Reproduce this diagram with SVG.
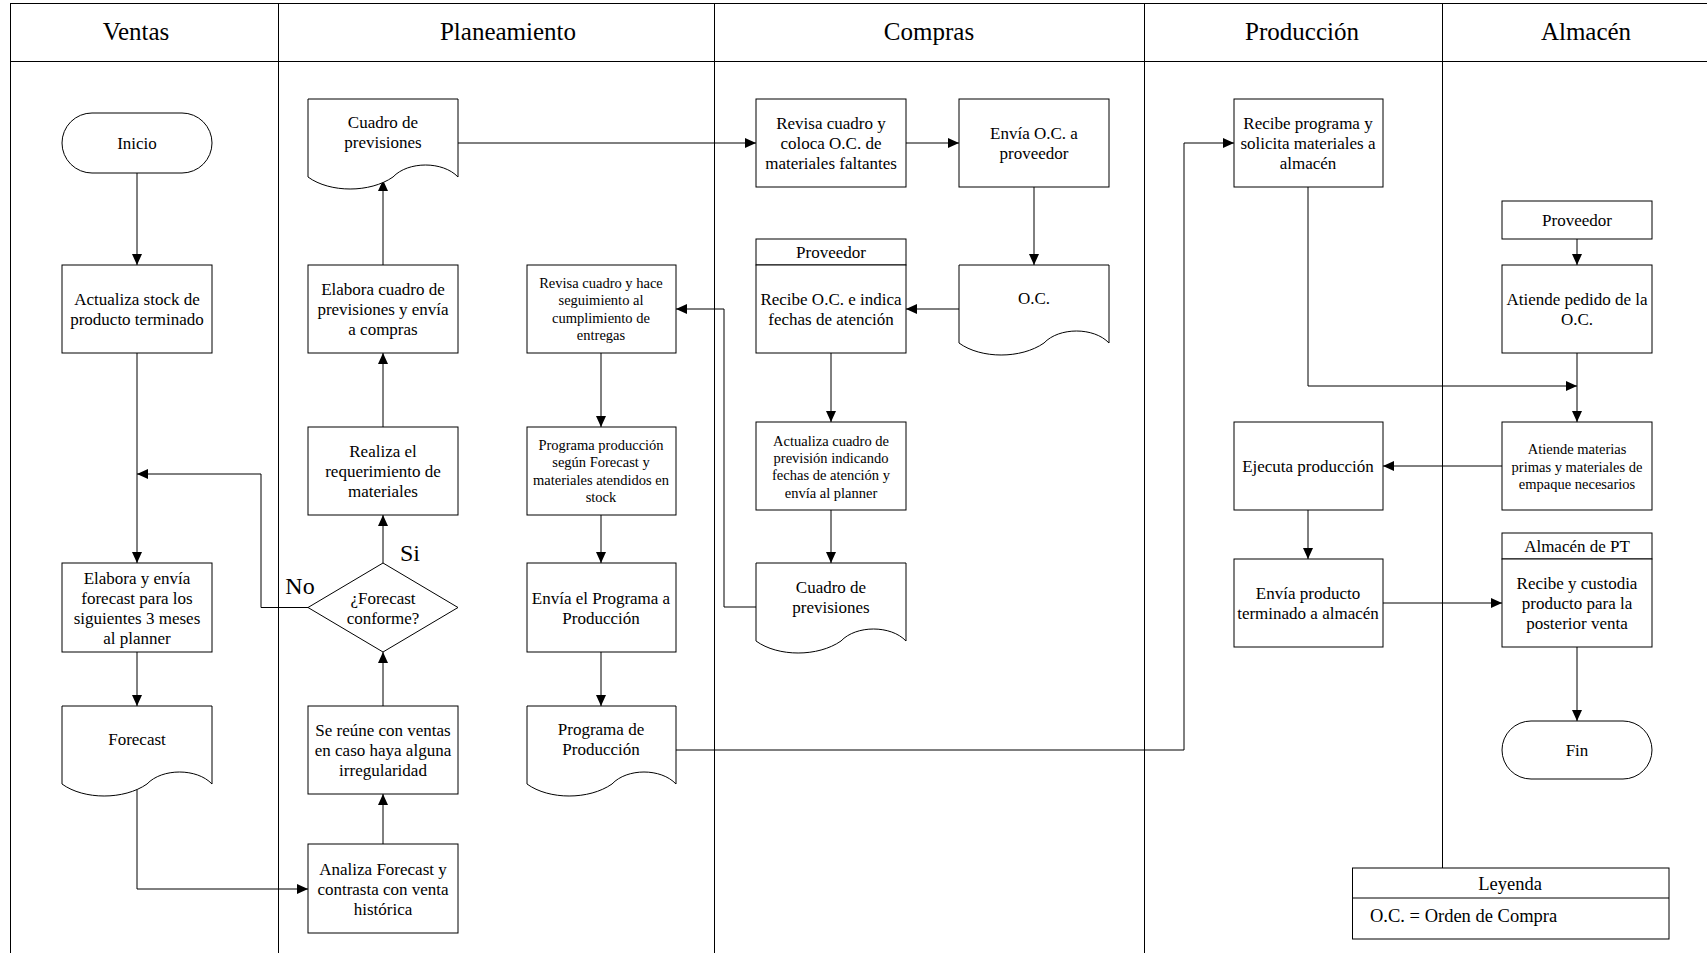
<svg xmlns="http://www.w3.org/2000/svg" width="1707" height="953" viewBox="0 0 1707 953">
<style>
text{font-family:"Liberation Serif","Times New Roman",serif;fill:#000;text-anchor:middle;font-size:17px}
.s{font-size:14.5px}
.h{font-size:25px}
.lb{font-size:24px}
.lg{font-size:18.5px}
.shape{fill:#fff;stroke:#000;stroke-width:1}
.lane{stroke:#000;stroke-width:1;fill:none}
.con path{fill:none;stroke:#000;stroke-width:1}
</style>
<defs>
<marker id="arr" markerUnits="userSpaceOnUse" markerWidth="12" markerHeight="11" refX="11" refY="5" orient="auto">
<path d="M0,0 L11,5 L0,10 Z" fill="#000"/>
</marker>
</defs>
<rect width="1707" height="953" fill="#fff"/>
<g id="lanes">
<path class="lane" d="M10,3.5 H1707 M10,61.5 H1707 M10.5,3 V953 M278.5,3 V953 M714.5,3 V953 M1144.5,3 V953 M1442.5,3 V868"/>
<text class="h" x="136" y="40">Ventas</text>
<text class="h" x="508" y="40">Planeamiento</text>
<text class="h" x="929" y="40">Compras</text>
<text class="h" x="1302" y="40">Producción</text>
<text class="h" x="1586" y="40">Almacén</text>
</g>
<g id="connectors" class="con">
<path d="M137,173 V265" marker-end="url(#arr)"/>
<path d="M137,353 V563" marker-end="url(#arr)"/>
<path d="M137,652 V706" marker-end="url(#arr)"/>
<path d="M137,786 V889 H308" marker-end="url(#arr)"/>
<path d="M383,844 V794" marker-end="url(#arr)"/>
<path d="M383,706 V652" marker-end="url(#arr)"/>
<path d="M383,563 V515" marker-end="url(#arr)"/>
<path d="M308,607.5 H261 V474 H137" marker-end="url(#arr)"/>
<path d="M383,427 V353" marker-end="url(#arr)"/>
<path d="M383,265 V180" marker-end="url(#arr)"/>
<path d="M458,143 H756" marker-end="url(#arr)"/>
<path d="M906,143 H959" marker-end="url(#arr)"/>
<path d="M1034,187 V265" marker-end="url(#arr)"/>
<path d="M959,309 H906" marker-end="url(#arr)"/>
<path d="M831,353 V422" marker-end="url(#arr)"/>
<path d="M831,510 V563" marker-end="url(#arr)"/>
<path d="M756,607 H724 V309 H676" marker-end="url(#arr)"/>
<path d="M601,353 V427" marker-end="url(#arr)"/>
<path d="M601,515 V563" marker-end="url(#arr)"/>
<path d="M601,652 V706" marker-end="url(#arr)"/>
<path d="M676,750 H1184 V143 H1234" marker-end="url(#arr)"/>
<path d="M1308,187 V386 H1577" marker-end="url(#arr)"/>
<path d="M1577,239 V265" marker-end="url(#arr)"/>
<path d="M1577,353 V422" marker-end="url(#arr)"/>
<path d="M1502,466 H1383" marker-end="url(#arr)"/>
<path d="M1308,510 V559" marker-end="url(#arr)"/>
<path d="M1383,603 H1502" marker-end="url(#arr)"/>
<path d="M1577,647 V721" marker-end="url(#arr)"/>
<text class="lb" x="410" y="561">Si</text>
<text class="lb" x="300" y="594">No</text>
</g>
<g id="n_inicio">
<rect class="shape" x="62" y="113" width="150" height="60" rx="30" ry="30"/>
<text x="137" y="148.6">Inicio</text>
</g>
<g id="n_actualiza_stock">
<rect class="shape" x="62" y="265" width="150" height="88"/>
<text x="137" y="304.6">Actualiza stock de</text>
<text x="137" y="324.6">producto terminado</text>
</g>
<g id="n_elabora_forecast">
<rect class="shape" x="62" y="563" width="150" height="89"/>
<text x="137" y="583.6">Elabora y envía</text>
<text x="137" y="603.6">forecast para los</text>
<text x="137" y="623.6">siguientes 3 meses</text>
<text x="137" y="643.6">al planner</text>
</g>
<g id="n_forecast">
<path class="shape" d="M62,706 H212 V784 C197,768 162,768 147,784 C124,800 84,800 62,784 Z"/>
<text x="137" y="744.6">Forecast</text>
</g>
<g id="n_cuadro_prev_pl">
<path class="shape" d="M308,99 H458 V177 C443,161 408,161 393,177 C370,193 330,193 308,177 Z"/>
<text x="383" y="127.6">Cuadro de</text>
<text x="383" y="147.6">previsiones</text>
</g>
<g id="n_elabora_cuadro">
<rect class="shape" x="308" y="265" width="150" height="88"/>
<text x="383" y="294.6">Elabora cuadro de</text>
<text x="383" y="314.6">previsiones y envía</text>
<text x="383" y="334.6">a compras</text>
</g>
<g id="n_realiza">
<rect class="shape" x="308" y="427" width="150" height="88"/>
<text x="383" y="456.6">Realiza el</text>
<text x="383" y="476.6">requerimiento de</text>
<text x="383" y="496.6">materiales</text>
</g>
<g id="n_decision">
<path class="shape" d="M383,563 L458,607.5 L383,652 L308,607.5 Z"/>
<text x="383" y="603.6">¿Forecast</text>
<text x="383" y="623.6">conforme?</text>
</g>
<g id="n_reune">
<rect class="shape" x="308" y="706" width="150" height="88"/>
<text x="383" y="735.6">Se reúne con ventas</text>
<text x="383" y="755.6">en caso haya alguna</text>
<text x="383" y="775.6">irregularidad</text>
</g>
<g id="n_analiza">
<rect class="shape" x="308" y="844" width="150" height="89"/>
<text x="383" y="874.6">Analiza Forecast y</text>
<text x="383" y="894.6">contrasta con venta</text>
<text x="383" y="914.6">histórica</text>
</g>
<g id="n_revisa_hace">
<rect class="shape" x="527" y="265" width="149" height="88"/>
<text class="s" x="601" y="288">Revisa cuadro y hace</text>
<text class="s" x="601" y="305.3">seguimiento al</text>
<text class="s" x="601" y="322.6">cumplimiento de</text>
<text class="s" x="601" y="340">entregas</text>
</g>
<g id="n_programa_prod">
<rect class="shape" x="527" y="427" width="149" height="88"/>
<text class="s" x="601" y="450">Programa producción</text>
<text class="s" x="601" y="467.3">según Forecast y</text>
<text class="s" x="601" y="484.6">materiales atendidos en</text>
<text class="s" x="601" y="502">stock</text>
</g>
<g id="n_envia_programa">
<rect class="shape" x="527" y="563" width="149" height="89"/>
<text x="601" y="603.6">Envía el Programa a</text>
<text x="601" y="623.6">Producción</text>
</g>
<g id="n_programa_doc">
<path class="shape" d="M527,706 H676 V784 C661,768 627,768 612,784 C589,800 549,800 527,784 Z"/>
<text x="601" y="734.6">Programa de</text>
<text x="601" y="754.6">Producción</text>
</g>
<g id="n_revisa_coloca">
<rect class="shape" x="756" y="99" width="150" height="88"/>
<text x="831" y="128.6">Revisa cuadro y</text>
<text x="831" y="148.6">coloca O.C. de</text>
<text x="831" y="168.6">materiales faltantes</text>
</g>
<g id="n_envia_oc">
<rect class="shape" x="959" y="99" width="150" height="88"/>
<text x="1034" y="138.6">Envía O.C. a</text>
<text x="1034" y="158.6">proveedor</text>
</g>
<g id="n_recibe_oc">
<rect class="shape" x="756" y="239" width="150" height="26"/>
<text x="831" y="258">Proveedor</text>
<rect class="shape" x="756" y="265" width="150" height="88"/>
<text x="831" y="304.6">Recibe O.C. e indica</text>
<text x="831" y="324.6">fechas de atención</text>
</g>
<g id="n_oc_doc">
<path class="shape" d="M959,265 H1109 V343 C1094,327 1059,327 1044,343 C1021,359 981,359 959,343 Z"/>
<text x="1034" y="303.6">O.C.</text>
</g>
<g id="n_actualiza_cuadro">
<rect class="shape" x="756" y="422" width="150" height="88"/>
<text class="s" x="831" y="445.5">Actualiza cuadro de</text>
<text class="s" x="831" y="462.9">previsión indicando</text>
<text class="s" x="831" y="480.3">fechas de atención y</text>
<text class="s" x="831" y="497.7">envía al planner</text>
</g>
<g id="n_cuadro_prev_co">
<path class="shape" d="M756,563 H906 V641 C891,625 856,625 841,641 C818,657 778,657 756,641 Z"/>
<text x="831" y="592.6">Cuadro de</text>
<text x="831" y="612.6">previsiones</text>
</g>
<g id="n_recibe_programa">
<rect class="shape" x="1234" y="99" width="149" height="88"/>
<text x="1308" y="128.6">Recibe programa y</text>
<text x="1308" y="148.6">solicita materiales a</text>
<text x="1308" y="168.6">almacén</text>
</g>
<g id="n_ejecuta">
<rect class="shape" x="1234" y="422" width="149" height="88"/>
<text x="1308" y="472">Ejecuta producción</text>
</g>
<g id="n_envia_pt">
<rect class="shape" x="1234" y="559" width="149" height="88"/>
<text x="1308" y="599">Envía producto</text>
<text x="1308" y="619">terminado a almacén</text>
</g>
<g id="n_proveedor_alm">
<rect class="shape" x="1502" y="201" width="150" height="38"/>
<text x="1577" y="225.6">Proveedor</text>
</g>
<g id="n_atiende_pedido">
<rect class="shape" x="1502" y="265" width="150" height="88"/>
<text x="1577" y="304.6">Atiende pedido de la</text>
<text x="1577" y="324.6">O.C.</text>
</g>
<g id="n_atiende_materias">
<rect class="shape" x="1502" y="422" width="150" height="88"/>
<text class="s" x="1577" y="454.1">Atiende materias</text>
<text class="s" x="1577" y="471.5">primas y materiales de</text>
<text class="s" x="1577" y="488.9">empaque necesarios</text>
</g>
<g id="n_almacen_pt">
<rect class="shape" x="1502" y="533" width="150" height="26"/>
<text x="1577" y="552">Almacén de PT</text>
<rect class="shape" x="1502" y="559" width="150" height="88"/>
<text x="1577" y="588.6">Recibe y custodia</text>
<text x="1577" y="608.6">producto para la</text>
<text x="1577" y="628.6">posterior venta</text>
</g>
<g id="n_fin">
<rect class="shape" x="1502" y="721" width="150" height="58" rx="29" ry="29"/>
<text x="1577" y="755.6">Fin</text>
</g>
<g id="legend">
<rect class="shape" x="1352.5" y="868" width="316.5" height="71"/>
<path class="lane" d="M1352.5,898 H1669"/>
<text class="lg" x="1510" y="890">Leyenda</text>
<text class="lg" x="1370" y="922" style="text-anchor:start">O.C. = Orden de Compra</text>
</g>
</svg>
